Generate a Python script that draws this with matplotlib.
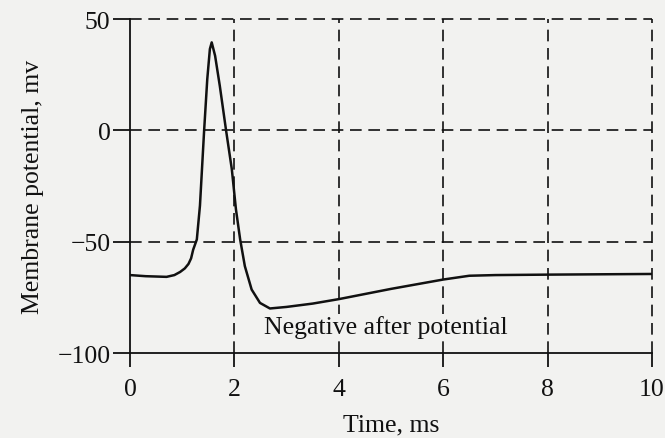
import matplotlib
matplotlib.use("Agg")
import matplotlib.pyplot as plt

# curve (time in ms, membrane potential in mV)
time_ms = [0, 0.3, 0.7, 0.85, 0.96, 1.05, 1.12, 1.17, 1.21, 1.28, 1.34, 1.42,
           1.48, 1.53, 1.565, 1.63, 1.72, 1.84, 1.95, 2.03, 2.11, 2.2, 2.33,
           2.49, 2.68, 3.0, 3.5, 4.0, 5.0, 6.0, 6.5, 7.0, 8.0, 10.0]
potential_mv = [-65, -65.5, -65.8, -65, -63.6, -62, -60, -57.5, -53.6, -49,
                -33.8, 0, 23, 36.5, 39.5, 33.5, 20, 0, -17.4, -35.6, -49, -61,
                -71.5, -77.5, -80, -79.3, -77.8, -75.8, -71.2, -67, -65.3, -65,
                -64.8, -64.5]

x_ticks = [0, 2, 4, 6, 8, 10]
y_ticks = [-100, -50, 0, 50]
x_grid = [2, 4, 6, 8, 10]
y_grid = [-50, 0, 50]

plt.rcParams['font.family'] = ['Liberation Serif', 'DejaVu Serif']
bg = '#f2f2f0'

fig = plt.figure(figsize=(6.65, 4.39), dpi=100, facecolor=bg)
ax = fig.add_axes([0.1955, 0.1936, 0.785, 0.7608], facecolor=bg)

for x in x_grid:
    ax.axvline(x, color='#111111', lw=1.2, dashes=(7, 4), clip_on=False)
for y in y_grid:
    ax.axhline(y, color='#111111', lw=1.2, dashes=(7, 4), clip_on=False)

ax.plot(time_ms, potential_mv, color='#111111', lw=1.8, solid_joinstyle='round')

ax.text(4.9, -88, 'Negative after potential', ha='center', va='center',
        fontsize=18.5, color='#111111', zorder=5,
        bbox=dict(facecolor=bg, edgecolor='none', pad=1))

ax.set_xlim(0, 10)
ax.set_ylim(-100, 50)
ax.set_xticks(x_ticks)
ax.set_yticks(y_ticks)
ax.set_yticklabels(['\u2212100', '\u221250', '0', '50'])
for s in ['top', 'right']:
    ax.spines[s].set_visible(False)
for s in ['left', 'bottom']:
    ax.spines[s].set_color('#111111')
    ax.spines[s].set_linewidth(1.3)
ax.tick_params(axis='y', direction='out', length=12, width=1.3,
               labelsize=18.5, pad=2, colors='#111111')
ax.tick_params(axis='x', direction='out', length=10, width=1.3,
               labelsize=18.5, pad=8, colors='#111111')

ax.set_xlabel('Time, ms', fontsize=18.5, labelpad=10, color='#111111')
ax.set_ylabel('Membrane potential, mv', fontsize=18.5, labelpad=10, color='#111111')

fig.savefig('out.png', dpi=100, facecolor=bg)
